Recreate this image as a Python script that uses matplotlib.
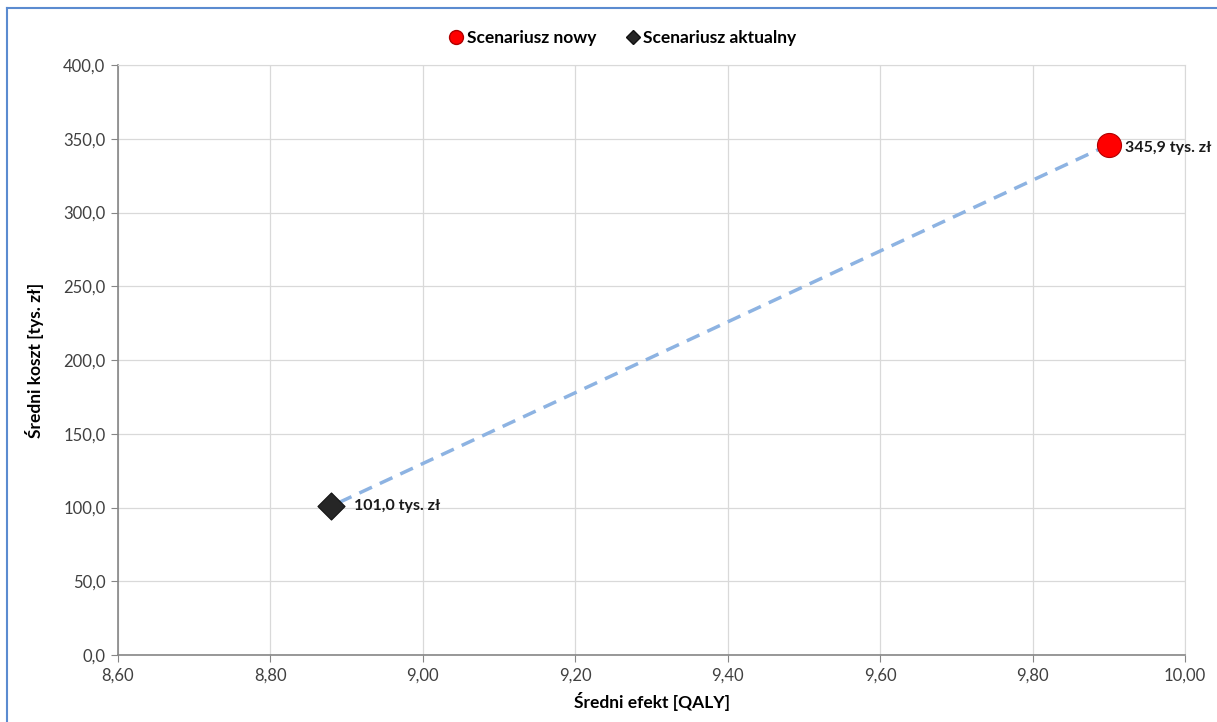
import matplotlib
matplotlib.use("Agg")
import matplotlib.pyplot as plt
from matplotlib.lines import Line2D
from matplotlib.ticker import FuncFormatter, MultipleLocator

plt.rcParams['font.family'] = ['Lato', 'DejaVu Sans']

# dane
scenariusze = ["Scenariusz nowy", "Scenariusz aktualny"]
efekt = [9.90, 8.88]      # QALY
koszt = [345.9, 101.0]    # tys. zł
etykiety = ["345,9 tys. zł", "101,0 tys. zł"]

fig = plt.figure(figsize=(12.17, 7.22), dpi=100)
ax = fig.add_axes([118 / 1217, 1 - 655 / 722, (1185 - 118) / 1217, (655 - 65) / 722])

# ramka wykresu (niebieska, lewa i górna krawędź)
fig.add_artist(Line2D([7 / 1217, 7 / 1217], [0, 1 - 8 / 722], transform=fig.transFigure,
                      color="#5b8bd0", lw=1.5))
fig.add_artist(Line2D([7 / 1217, 1], [1 - 8 / 722, 1 - 8 / 722], transform=fig.transFigure,
                      color="#5b8bd0", lw=1.5))

# linia łącząca
ax.plot(efekt, koszt, ls=(0, (4, 2.5)), color="#8db3e2", lw=2.5, zorder=2)

ax.scatter(efekt[0], koszt[0], s=300, color="#ff0000", edgecolors="#b00000", linewidths=0.8, zorder=4)
ax.scatter(efekt[1], koszt[1], s=190, marker="D", color="#262626", edgecolors="#111111",
           linewidths=0.8, zorder=4)

odsuniecia = [(11.5, -2), (16.5, 0)]
for x, y, t, o in zip(efekt, koszt, etykiety, odsuniecia):
    ax.annotate(t, (x, y), xytext=o, textcoords="offset points", fontsize=11.5,
                fontweight="bold", va="center", ha="left", color="#1a1a1a", annotation_clip=False)

ax.set_xlim(8.6, 10.0)
ax.set_ylim(0, 400)
ax.xaxis.set_major_locator(MultipleLocator(0.2))
ax.yaxis.set_major_locator(MultipleLocator(50))
ax.xaxis.set_major_formatter(FuncFormatter(lambda v, p: f"{v:.2f}".replace(".", ",")))
ax.yaxis.set_major_formatter(FuncFormatter(lambda v, p: f"{v:.1f}".replace(".", ",")))

ax.grid(True, color="#d9d9d9", lw=0.9)
ax.set_axisbelow(True)
for s in ["top", "right"]:
    ax.spines[s].set_color("#d9d9d9")
for s in ["left", "bottom"]:
    ax.spines[s].set_color("#868686")
    ax.spines[s].set_linewidth(1.2)
ax.tick_params(direction="out", length=5, color="#868686", labelsize=12, labelcolor="#404040",
               pad=4)

ax.set_xlabel("Średni efekt [QALY]", fontsize=12.5, fontweight="bold", labelpad=6)
ax.set_ylabel("Średni koszt [tys. zł]", fontsize=12.5, fontweight="bold", labelpad=14)

handles = [
    Line2D([], [], marker="o", ls="", markersize=10, markerfacecolor="#ff0000",
           markeredgecolor="#b00000", label=scenariusze[0]),
    Line2D([], [], marker="D", ls="", markersize=7, markerfacecolor="#262626",
           markeredgecolor="#111111", label=scenariusze[1]),
]
leg = fig.legend(handles=handles, loc="center", bbox_to_anchor=(622 / 1217, 1 - 38 / 722), ncol=2,
                 frameon=False, handletextpad=0.1, columnspacing=1.6, handlelength=1.0,
                 prop={"size": 12.5, "weight": "bold"})

fig.savefig("out.png", dpi=100)
